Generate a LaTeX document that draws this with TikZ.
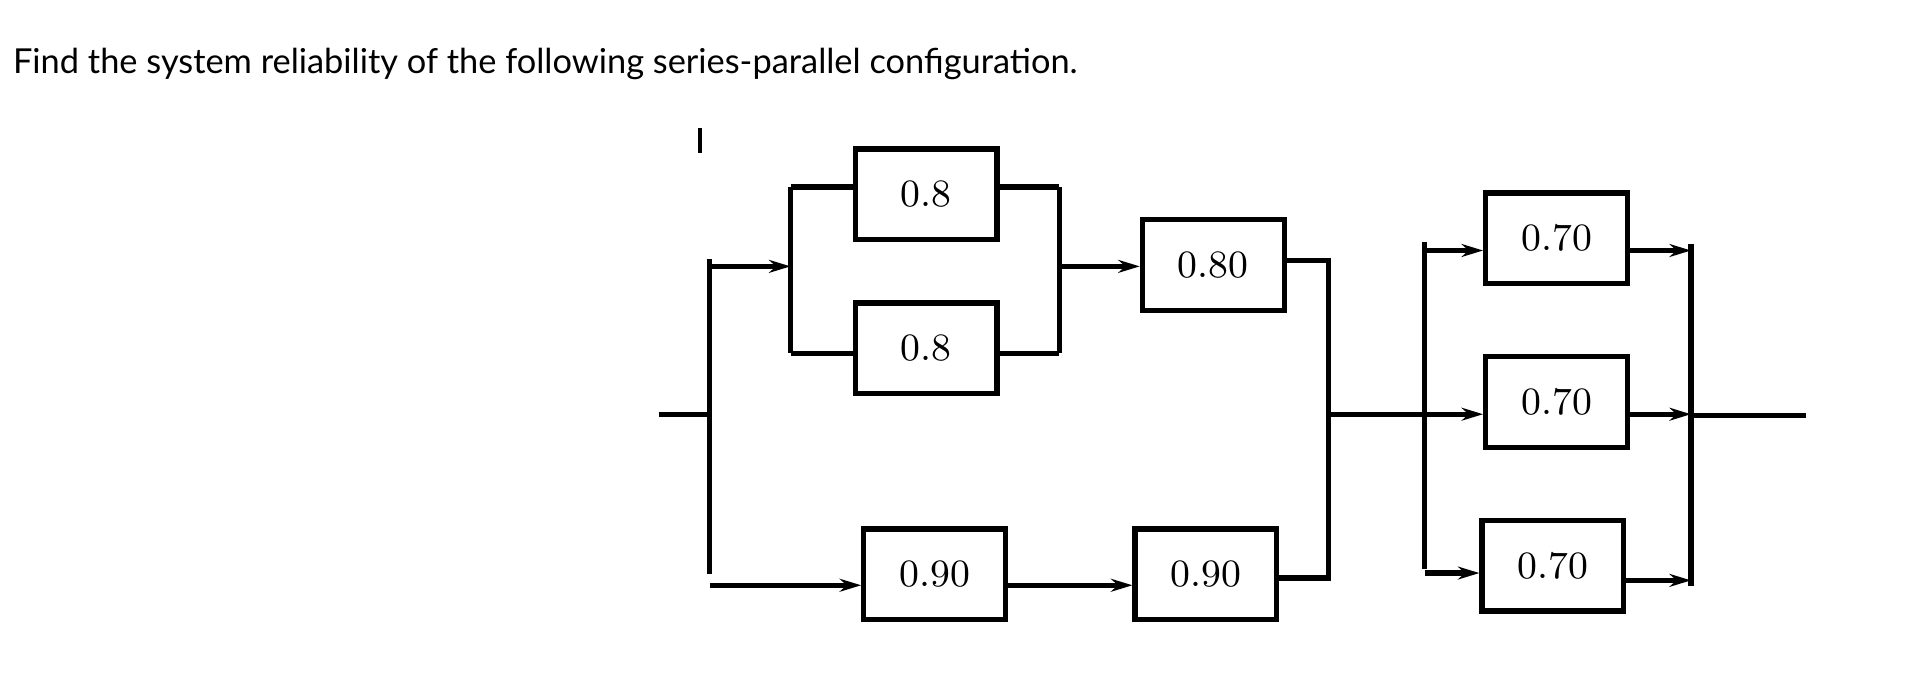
\documentclass[tikz,border=0pt]{standalone}
\usepackage{fontspec}
\newfontfamily\titlefont{Lato}
\usetikzlibrary{positioning, arrows.meta}
\tikzset{blk/.style={draw, line width=1.2pt, minimum width=1.16cm, minimum height=0.74cm, inner sep=0pt, font=\fontsize{9}{10}\selectfont},
  wire/.style={line width=1.2pt},
  flow/.style={wire, -{Stealth[length=5pt, width=3pt]}}}
\begin{document}
\begin{tikzpicture}[x=0.01cm, y=-0.01cm]
\useasboundingbox (0,0) rectangle (1560,553);
\node (title) [anchor=west, inner sep=0pt, font=\titlefont\fontsize{8}{9}\selectfont] at (10,52) {Find the system reliability of the following series-parallel configuration.};
\draw[line width=0.8pt] (573,105) -- (573,125);

% boxes
\node (a1) [blk] at (758,159) {0.8};
\node (a2) [blk] at (758,285) {0.8};
\node (b) [blk] at (993,217) {0.80};
\node (c1) [blk] at (765,470) {0.90};
\node (c2) [blk] at (987,470) {0.90};
\node (d1) [blk] at (1274,195) {0.70};
\node (d2) [blk] at (1274,329) {0.70};
\node (d3) [blk] at (1271,463) {0.70};

% junctions
\coordinate (in) at (539,339);
\coordinate (l1t) at (581,212);
\coordinate (l1b) at (581,470);
\coordinate (l2t) at (647,153);
\coordinate (l2b) at (647,289);
\coordinate (r2t) at (867,153);
\coordinate (r2b) at (867,289);
\coordinate (r1t) at (1087,213);
\coordinate (r1b) at (1087,473);
\coordinate (l3t) at (1166,198);
\coordinate (l3b) at (1166,466);
\coordinate (r3t) at (1384,200);
\coordinate (r3b) at (1384,480);
\coordinate (out) at (1478,340);

\draw[wire] (l1t) -- (l1b);
\draw[wire] (in) -- (581,339);
\draw[flow] (581,218) -- (l2t |- 581,218);
\draw[wire] (l2t) -- (l2b);
\draw[wire] (l2t) -- (a1.west |- l2t);
\draw[wire] (l2b) -- (a2.west |- l2b);
\draw[wire] (a1.east |- r2t) -- (r2t);
\draw[wire] (a2.east |- r2b) -- (r2b);
\draw[wire] (r2t) -- (r2b);
\draw[flow] (867,218) -- (b.west |- 867,218);
\draw[wire] (b.east |- r1t) -- (r1t) -- (r1b) -- (c2.east |- r1b);
\draw[flow] (581,479) -- (c1.west |- 581,479);
\draw[flow] (c1.east |- 581,479) -- (c2.west |- 581,479);

\draw[flow] (1087,339) -- (d2.west |- 1087,339);
\draw[wire] (l3t) -- (l3b);
\draw[flow] (1166,205) -- (d1.west |- 1166,205);
\draw[flow] (1166,469) -- (d3.west |- 1166,469);
\draw[flow] (d1.east |- 1166,205) -- (r3t |- 1166,205);
\draw[flow] (d2.east |- 1166,339) -- (r3t |- 1166,339);
\draw[flow] (d3.east |- 1166,475) -- (r3t |- 1166,475);
\draw[wire] (r3t) -- (r3b);
\draw[wire] (1384,340) -- (out);
\end{tikzpicture}
\end{document}
